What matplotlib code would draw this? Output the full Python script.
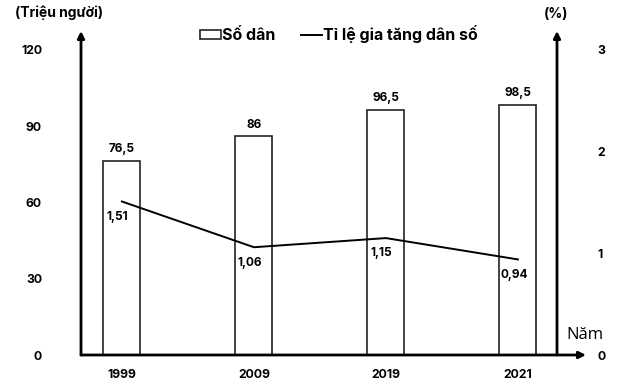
import matplotlib
matplotlib.use("Agg")
import matplotlib.pyplot as plt
from matplotlib.patches import Rectangle
from matplotlib.lines import Line2D

plt.rcParams['font.family'] = ['Inter', 'DejaVu Sans']
plt.rcParams['font.weight'] = 'bold'

# dữ liệu
years = ['1999', '2009', '2019', '2021']
population = [76.5, 86, 96.5, 98.5]
pop_labels = ['76,5', '86', '96,5', '98,5']
growth = [1.51, 1.06, 1.15, 0.94]
growth_labels = ['1,51', '1,06', '1,15', '0,94']
left_ticks = [0, 30, 60, 90, 120]
right_ticks = [0, 1, 2, 3]

W, H = 624, 388
fig = plt.figure(figsize=(W / 100, H / 100), dpi=100)

# axes: x 81..557 px, y 355..31 px
x0, x1, y0, y1 = 81, 557, 355, 31
ax = fig.add_axes([x0 / W, 1 - y0 / H, (x1 - x0) / W, (y0 - y1) / H])
ax2 = ax.twinx()

ax.set_ylim(0, 120 * (y0 - y1) / (y0 - 50))
ax2.set_ylim(0, 3 * (y0 - y1) / (y0 - 50))
xs = list(range(len(years)))
ax.set_xlim(-0.31, 3.296)

ax.bar(xs, population, width=0.28, facecolor='white', edgecolor='#222222', linewidth=1.2, zorder=2)
for x, v, s in zip(xs, population, pop_labels):
    ax.annotate(s, (x, v), xytext=(0, 4), textcoords='offset points',
                ha='center', va='bottom', fontsize=8.5, fontweight='bold')

ax2.plot(xs, growth, color='black', linewidth=1.4, zorder=3)
for x, v, s in zip(xs, growth, growth_labels):
    ax2.annotate(s, (x, v), xytext=(-3, -11), textcoords='offset points',
                 ha='center', va='center', fontsize=8.5, fontweight='bold')

for a in (ax, ax2):
    for sp in a.spines.values():
        sp.set_visible(False)

ax.set_yticks(left_ticks)
ax.set_yticklabels([str(t) for t in left_ticks])
ax.tick_params(axis='y', length=0, pad=28, labelsize=8.8)
for t in ax.get_yticklabels():
    t.set_fontweight('bold')

ax2.set_yticks(right_ticks)
ax2.set_yticklabels([str(t) for t in right_ticks])
ax2.tick_params(axis='y', length=0, pad=29, labelsize=8.8)
for t in ax2.get_yticklabels():
    t.set_fontweight('bold')

ax.set_xticks(xs)
ax.set_xticklabels(years)
ax.tick_params(axis='x', length=0, pad=10, labelsize=8.8)
for t in ax.get_xticklabels():
    t.set_fontweight('bold')

# trục có mũi tên
arrow = dict(arrowstyle='-|>', color='black', linewidth=2, mutation_scale=10, shrinkA=0, shrinkB=0)
ax.annotate('', xy=(0, 1), xytext=(0, 0), xycoords='axes fraction', arrowprops=arrow, annotation_clip=False)
ax.annotate('', xy=(1, 1), xytext=(1, 0), xycoords='axes fraction', arrowprops=arrow, annotation_clip=False)
ax.annotate('', xy=((586 - x0) / (x1 - x0), 0), xytext=(0, 0), xycoords='axes fraction',
            arrowprops=arrow, annotation_clip=False)

fig.text(15 / W, 1 - 13 / H, '(Triệu người)', fontsize=10, fontweight='bold', va='center', ha='left')
fig.text(556 / W, 1 - 14 / H, '(%)', fontsize=10, fontweight='bold', va='center', ha='center')
fig.text(585 / W, 1 - 335 / H, 'Năm', fontsize=12, fontweight='normal', va='center', ha='center',
         family=['Open Sans', 'DejaVu Sans'])

handles = [Rectangle((0, 0), 1, 1, facecolor='white', edgecolor='#222222', linewidth=1.2),
           Line2D([0], [0], color='black', linewidth=1.4)]
fig.legend(handles, ['Số dân', 'Tỉ lệ gia tăng dân số'], loc='center', bbox_to_anchor=(339 / W, 1 - 34 / H),
           ncol=2, frameon=False, fontsize=11.5, handlelength=1.3, handletextpad=0.1, columnspacing=1.6,
           handleheight=0.5)

fig.savefig('out.png', dpi=100)
